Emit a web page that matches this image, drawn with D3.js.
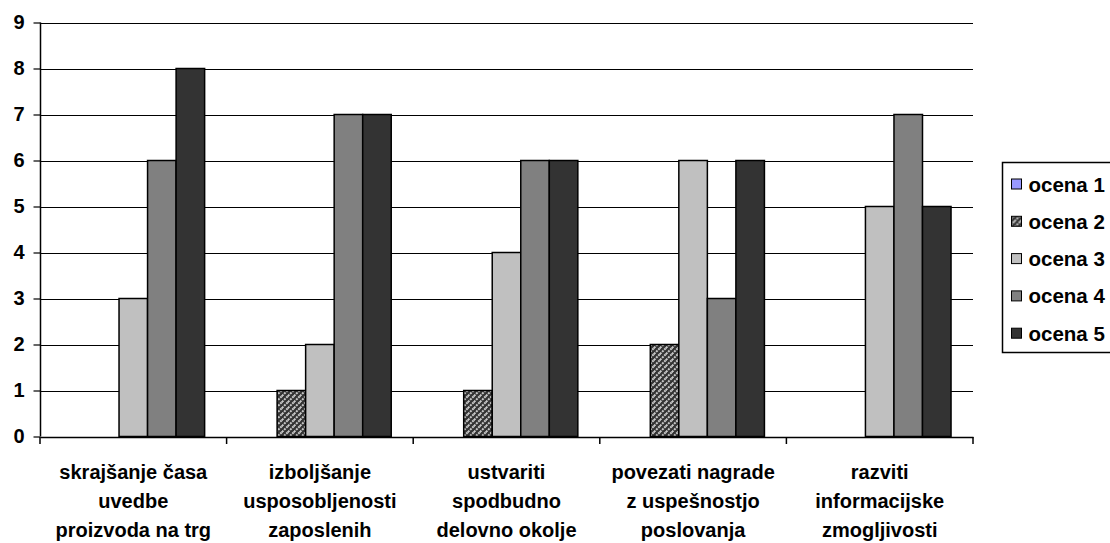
<!DOCTYPE html>
<html lang="sl">
<head>
    <meta charset="UTF-8">
    <title></title>
    <style type="text/css">
        html, body { padding:0; margin:0; background:#fff; }
        text { font-family: "Liberation Sans", Arial, sans-serif; font-weight: bold; }
    </style>
</head>
<body>
<script src="https://d3js.org/d3.v7.min.js"></script>
<script type="text/javascript">
    var categories = [
        ['skrajšanje časa', 'uvedbe', 'proizvoda na trg'],
        ['izboljšanje', 'usposobljenosti', 'zaposlenih'],
        ['ustvariti', 'spodbudno', 'delovno okolje'],
        ['povezati nagrade', 'z uspešnostjo', 'poslovanja'],
        ['razviti', 'informacijske', 'zmogljivosti']
    ];
    var seriesNames = ['ocena 1', 'ocena 2', 'ocena 3', 'ocena 4', 'ocena 5'];
    var ocena1 = [0, 0, 0, 0, 0];
    var ocena2 = [0, 1, 1, 2, 0];
    var ocena3 = [3, 2, 4, 6, 5];
    var ocena4 = [6, 7, 6, 3, 7];
    var ocena5 = [8, 7, 6, 6, 5];
    var yTicks = [0, 1, 2, 3, 4, 5, 6, 7, 8, 9];

    var series = [ocena1, ocena2, ocena3, ocena4, ocena5];
    var fills = ['#9999ff', 'url(#hatch)', '#c0c0c0', '#808080', '#333333'];

    var width = 1110, height = 543,
        plotLeft = 40, plotRight = 973, plotTop = 22.5, plotBottom = 436.5;

    var svg = d3.select('body').append('svg')
        .attr('width', width)
        .attr('height', height);

    // diagonal hatch for ocena 2
    var pat = svg.append('defs').append('pattern')
        .attr('id', 'hatch')
        .attr('patternUnits', 'userSpaceOnUse')
        .attr('width', 6)
        .attr('height', 6);
    pat.append('rect').attr('width', 6).attr('height', 6).attr('fill', '#333333');
    pat.append('path')
        .attr('d', 'M0,6 L6,0 M-1,1 L1,-1 M5,7 L7,5')
        .attr('stroke', '#c8c8c8')
        .attr('stroke-width', 2)
        .attr('stroke-dasharray', '2,1');

    var xScale = d3.scaleBand().domain(d3.range(categories.length)).range([plotLeft, plotRight])
        .paddingInner(0).paddingOuter(0);
    var inner = d3.scaleBand().domain(d3.range(series.length))
        .range([0, xScale.bandwidth()]).paddingOuter(0.77).paddingInner(0);
    var yScale = d3.scaleLinear().domain([0, 9]).range([plotBottom, plotTop]);

    // gridlines
    svg.append('g').selectAll('line')
        .data(yTicks.slice(1))
        .enter().append('line')
        .attr('x1', plotLeft).attr('x2', plotRight)
        .attr('y1', function(d) { return Math.round(yScale(d)) + 0.5; })
        .attr('y2', function(d) { return Math.round(yScale(d)) + 0.5; })
        .attr('stroke', '#000').attr('stroke-width', 1.2);

    // bars (skip zero values, keep category index)
    series.forEach(function(vals, s) {
        var pts = vals.map(function(v, i) { return {cat: i, value: v}; })
                      .filter(function(d) { return d.value > 0; });
        svg.append('g').selectAll('rect')
            .data(pts)
            .enter().append('rect')
            .attr('x', function(d) { return xScale(d.cat) + inner(s); })
            .attr('y', function(d) { return yScale(d.value); })
            .attr('width', inner.bandwidth())
            .attr('height', function(d) { return yScale(0) - yScale(d.value); })
            .attr('fill', fills[s])
            .attr('stroke', '#000')
            .attr('stroke-width', 1.5);
    });

    // y axis
    var yAxis = d3.axisLeft(yScale).tickValues(yTicks).tickSize(7).tickPadding(9);
    var gy = svg.append('g').attr('transform', 'translate(' + (plotLeft + 0.5) + ',0)').call(yAxis);
    gy.select('.domain').attr('stroke', '#000').attr('stroke-width', 1.5).attr('d', 'M0,' + plotTop + 'V' + plotBottom);
    gy.selectAll('.tick line').attr('stroke', '#000').attr('stroke-width', 1.2);
    gy.selectAll('.tick text').attr('font-size', 20).attr('font-family', null).attr('fill', '#000');

    // x axis
    var xAxis = d3.axisBottom(xScale).tickValues([]).tickSizeOuter(0);
    var gx = svg.append('g').attr('transform', 'translate(0,' + (plotBottom + 0.5) + ')').call(xAxis);
    gx.select('.domain').attr('stroke', '#000').attr('stroke-width', 1.5);
    var bounds = d3.range(categories.length + 1).map(function(i) { return plotLeft + i * xScale.step(); });
    gx.selectAll('line.bound').data(bounds).enter().append('line')
        .attr('class', 'bound')
        .attr('x1', function(d) { return d; }).attr('x2', function(d) { return d; })
        .attr('y1', 0).attr('y2', 7)
        .attr('stroke', '#000').attr('stroke-width', 1.5);

    var labels = svg.append('g').selectAll('text')
        .data(categories)
        .enter().append('text')
        .attr('text-anchor', 'middle')
        .attr('font-size', 20)
        .attr('fill', '#000')
        .attr('transform', function(d, i) { return 'translate(' + (xScale(i) + xScale.bandwidth() / 2) + ',479)'; });
    labels.selectAll('tspan')
        .data(function(d) { return d; })
        .enter().append('tspan')
        .attr('x', 0)
        .attr('y', function(d, i) { return i * 29; })
        .text(function(d) { return d; });

    // legend
    var lg = svg.append('g').attr('transform', 'translate(1002.5,162.5)');
    lg.append('rect').attr('width', 130).attr('height', 190)
        .attr('fill', '#fff').attr('stroke', '#000').attr('stroke-width', 1.5);
    var items = lg.selectAll('g.item').data(seriesNames).enter().append('g')
        .attr('class', 'item')
        .attr('transform', function(d, i) { return 'translate(0,' + (21.5 + i * 37.3) + ')'; });
    items.append('rect')
        .attr('x', 9).attr('y', -5).attr('width', 10).attr('height', 10)
        .attr('fill', function(d, i) { return fills[i]; })
        .attr('stroke', '#000').attr('stroke-width', 1);
    items.append('text')
        .attr('x', 26).attr('y', 7.5)
        .attr('font-size', 20.5)
        .attr('fill', '#000')
        .text(function(d) { return d; });
</script>
</body>
</html>
